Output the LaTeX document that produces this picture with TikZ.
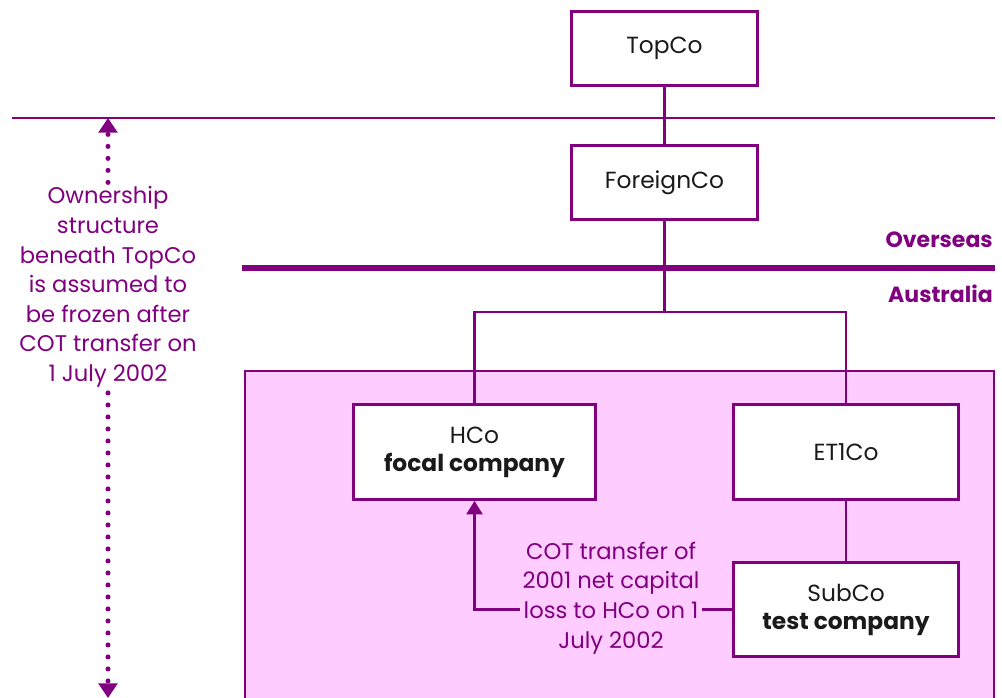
\documentclass[tikz,border=0pt]{standalone}
\usepackage{fontspec}
\setmainfont{Poppins}
\usetikzlibrary{arrows.meta,positioning,calc}
\definecolor{plum}{HTML}{800080}
\definecolor{pinkbg}{HTML}{FFCCFF}
\definecolor{ink}{HTML}{1A1A1A}

\tikzset{
  company/.style={draw=plum, line width=2.4pt, fill=white, align=center, text=ink,
    minimum width=140pt, minimum height=55.5pt, font=\fontsize{17.5}{21}\selectfont},
  link/.style={draw=plum, line width=1.6pt},
  note/.style={text=plum, align=center, inner sep=1pt, font=\fontsize{17}{22.2}\selectfont},
  region/.style={text=plum, anchor=east, inner sep=0pt, font=\fontsize{16.5}{18}\selectfont\bfseries},
  frozen/.style={draw=plum, line width=3.8pt, line cap=round, dash pattern=on 0pt off 9pt,
    -{Triangle[width=14pt,length=11pt]}},
}

\begin{document}
\begin{tikzpicture}[x=0.75pt,y=-0.75pt]
      \useasboundingbox (0,0) rectangle (1002,697);
      \clip (0,0) rectangle (1002,697);

      % Australian group
      \filldraw[fill=pinkbg, draw=plum, line width=2.2pt] (245,371) rectangle (994,740);

      % Dividers
      \draw[plum, line width=1.8pt] (12,118) -- (995,118);
      \draw[plum, line width=3.8pt] (242,268) -- (995,268);
      \node[region] (overseas) at (993,240) {Overseas};
      \node[region] (australia) at (993,294) {Australia};

      % Companies
      \node[company] (topco) at (664.5,48.5) {TopCo};
      \node[company, below=42.75pt of topco] (foreignco) {ForeignCo};
      \node[company, minimum width=181.5pt, minimum height=71pt] (hco) at (474.5,452) {HCo\\ \textbf{focal company}};
      \node[company, minimum width=169pt, minimum height=71pt, right=101pt of hco] (et1co) {ET1Co};
      \node[company, minimum width=169pt, minimum height=70.5pt, below=45pt of et1co] (subco) {SubCo\\ \textbf{test company}};
      \coordinate (fork) at (664.5,312);

      % Edges
      \draw[link] (topco) -- (foreignco);
      \draw[link] (foreignco) -- (fork);
      \draw[link] (hco.north) |- (fork) -| (et1co.north);
      \draw[link] (et1co) -- (subco);
      \draw[link, -{Triangle[width=12pt,length=10pt]}] (subco.west) -- (hco.south |- subco.west) -- (hco.south);
      \node[note, fill=pinkbg, inner sep=2pt] (cot) at (611,598) {COT transfer of\\ 2001 net capital\\ loss to HCo on 1\\ July 2002};

      % Frozen ownership note
      \node[note] (assumed) at (108,287) {Ownership\\ structure\\ beneath TopCo\\ is assumed to\\ be frozen after\\ COT transfer on\\ 1 July 2002};
      \coordinate (frozentop) at (108,118);
      \coordinate (frozenend) at (108,698);
      \draw[frozen] ([yshift=2pt]assumed.north) -- (frozentop);
      \draw[frozen] ([yshift=-3pt]assumed.south) -- (frozenend);
\end{tikzpicture}
\end{document}
